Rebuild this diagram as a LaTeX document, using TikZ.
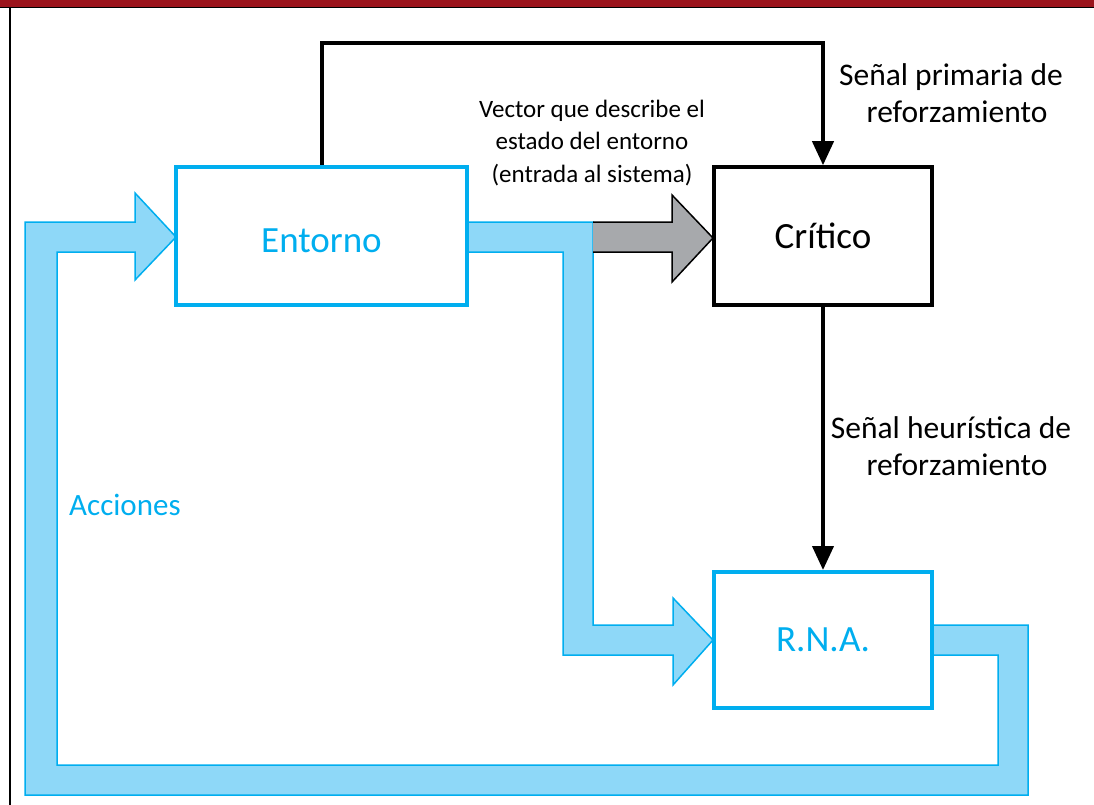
\documentclass[tikz,border=0pt]{standalone}
\usepackage{fontspec}
\setmainfont{Carlito}
\usetikzlibrary{arrows.meta}
\definecolor{cyanline}{HTML}{00AEEF}
\definecolor{cyanfill}{HTML}{8ED8F8}
\definecolor{greyfill}{HTML}{A7A9AC}
\definecolor{barred}{HTML}{9B141C}
\begin{document}
\begin{tikzpicture}[x=1pt,y=-1pt,
  bluebox/.style={draw=cyanline,line width=4pt,fill=white,inner sep=0pt,
    text=cyanline,font=\fontsize{37}{44}\selectfont},
  blackbox/.style={draw=black,line width=3.5pt,fill=white,inner sep=0pt,
    text=black,font=\fontsize{37}{44}\selectfont},
  sig/.style={line width=4pt,-{Triangle[length=24pt,width=21pt]}},
  lbl/.style={align=center,inner sep=0pt,font=\fontsize{31.5}{37}\selectfont},
  fatblue/.style={fill=cyanfill,draw=cyanline,line width=1.5pt,line join=miter},
  fatgrey/.style={fill=greyfill,draw=black,line width=1.5pt,line join=miter}]
\useasboundingbox (0,0) rectangle (1094,805);

% page frame: red top bar and thin black rules
\fill[barred] (0,0) rectangle (1094,7);
\draw[line width=1pt] (0,7.5) -- (1094,7.5);
\draw[line width=1.5pt] (10,7.5) -- (10,805);

% feedback band from R.N.A. back round to Entorno (Acciones)
\path[fatblue] (932,625) -- (1028,625) -- (1028,795) -- (25,795) -- (25,222)
  -- (135,222) -- (135,193) -- (176,237) -- (135,280) -- (135,252)
  -- (57,252) -- (57,765) -- (998,765) -- (998,655) -- (932,655);

% state band from Entorno to R.N.A.
\path[fatblue] (467,222) -- (593,222) -- (593,625) -- (673,625) -- (673,598)
  -- (713,640) -- (673,685) -- (673,655) -- (563,655) -- (563,252) -- (467,252);

% grey branch into the critic
\path[fatgrey] (593,222) -- (672,222) -- (672,195) -- (713,238) -- (672,282)
  -- (672,252) -- (593,252);

% blocks
\node[bluebox,minimum width=291,minimum height=138] (ent) at (321.5,236)
  {\raisebox{-16pt}[0pt][0pt]{Entorno}};
\node[blackbox,minimum width=218,minimum height=138] (crit) at (823,236) {Crítico};
\node[bluebox,minimum width=218,minimum height=136] (rna) at (823,640) {R.N.A.};

% reinforcement signals
\coordinate (topline) at (570,43);
\draw[sig] (ent.north) |- (topline) -| (crit.north);
\draw[sig] (crit.south) -- (rna.north);

% labels
\node[lbl] (prim) at (951,93) {Señal primaria de\\\hspace*{12pt}reforzamiento};
\node[lbl] (heur) at (951,446) {Señal heurística de\\\hspace*{12pt}reforzamiento};
\node[align=center,inner sep=0pt,font=\fontsize{25}{32.5}\selectfont] (vec) at (592,143)
  {Vector que describe el\\estado del entorno\\(entrada al sistema)};
\node[anchor=west,inner sep=0pt,text=cyanline,font=\fontsize{31}{37}\selectfont] (acc) at (69,505) {Acciones};
\end{tikzpicture}
\end{document}
